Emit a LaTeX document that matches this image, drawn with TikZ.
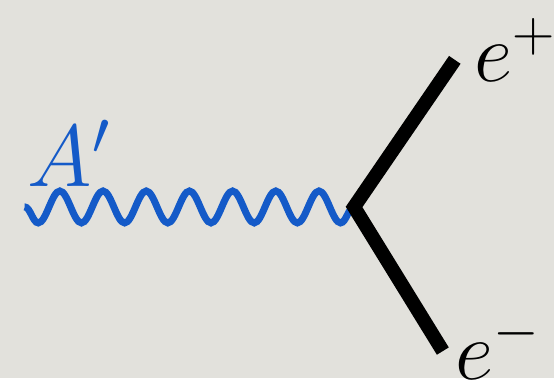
\RequirePackage{fix-cm}
\documentclass[tikz,border=0pt]{standalone}
\usetikzlibrary{decorations.pathmorphing}
\definecolor{bggray}{RGB}{226,225,220}
\definecolor{photonblue}{RGB}{20,90,200}

\begin{document}
\begin{tikzpicture}[x=1pt,y=-1pt,
    photon/.style={draw=photonblue,line width=7pt,decorate,
                   decoration={snake,segment length=43.3pt,amplitude=16pt}},
    fermion/.style={draw=black,line width=14pt},
    lbl/.style={font=\fontsize{84}{90}\selectfont,inner sep=0pt}
  ]
    % background
    \fill[bggray] (0,0) rectangle (555,379);
    % vertex and line ends
    \coordinate (in) at (24.8,207.5);
    \coordinate (vtx) at (355,207.5);
    \coordinate (pos) at (456,60);
    \coordinate (neg) at (444,352);
    % lines
    \draw[photon] (vtx) -- (in);
    \draw[fermion] (pos) -- (vtx) -- (neg);
    % labels
    \node[lbl,text=photonblue,font=\fontsize{88}{94}\selectfont] (aprime) at (69,154) {$A'$};
    \node[lbl] (eplus) at (516,50) {$e^+$};
    \node[lbl] (eminus) at (499,348) {$e^-$};
  \end{tikzpicture}
\end{document}
